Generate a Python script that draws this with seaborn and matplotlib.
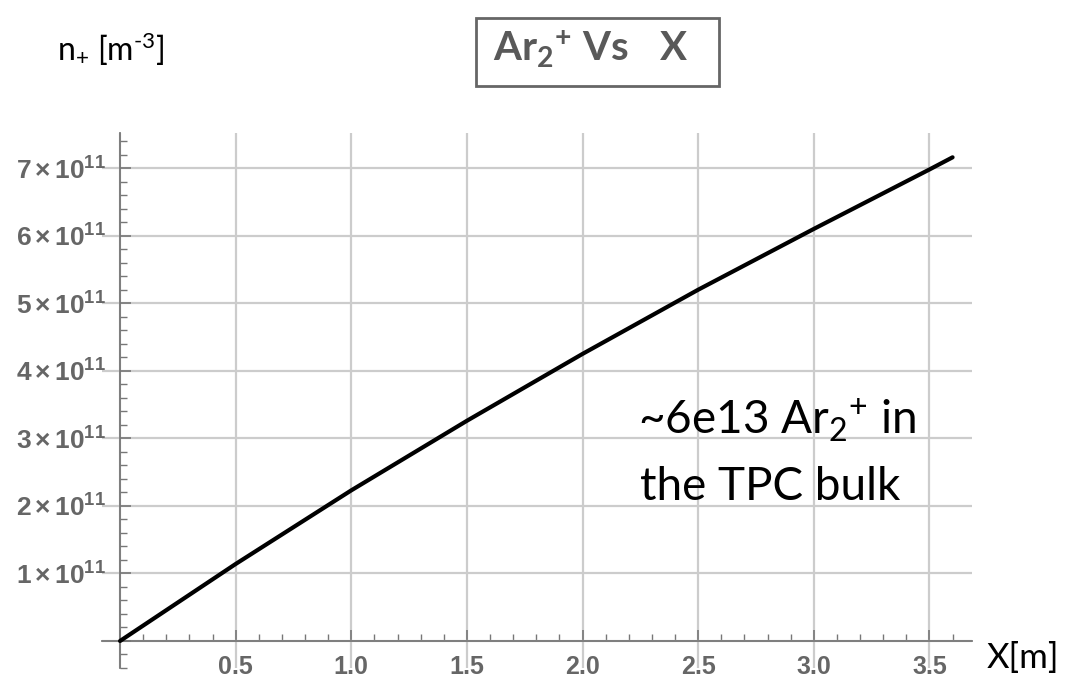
import matplotlib
matplotlib.use("Agg")
import matplotlib.pyplot as plt
from matplotlib.patches import Rectangle
from matplotlib.ticker import MultipleLocator, FixedLocator, FuncFormatter
import seaborn as sns
import pandas as pd

# ---- data ----
x_m = [0.0, 0.5, 1.0, 1.5, 2.0, 2.5, 3.0, 3.5, 3.6]
n_plus = [0.0, 1.14e11, 2.23e11, 3.26e11, 4.25e11, 5.20e11, 6.10e11, 6.98e11, 7.16e11]
x_tick_values = [0.5, 1.0, 1.5, 2.0, 2.5, 3.0, 3.5]
x_tick_labels = ["0.5", "1.0", "1.5", "2.0", "2.5", "3.0", "3.5"]
y_tick_values = [1e11, 2e11, 3e11, 4e11, 5e11, 6e11, 7e11]
y_tick_mantissa = [1, 2, 3, 4, 5, 6, 7]

sns.set_theme(style="white")
plt.rcParams["mathtext.fontset"] = "custom"
plt.rcParams["mathtext.rm"] = "Lato"
plt.rcParams["mathtext.it"] = "Lato:italic"
plt.rcParams["mathtext.bf"] = "Liberation Sans:bold"
plt.rcParams["mathtext.sf"] = "Lato:bold"
plt.rcParams["font.family"] = ["Lato", "DejaVu Sans"]

W, H = 1066, 677
fig = plt.figure(figsize=(W / 100, H / 100), dpi=100)
ax = fig.add_axes([102 / W, 9 / H, 870 / W, 535 / H])

df = pd.DataFrame({"x": x_m, "n": n_plus})
sns.lineplot(data=df, x="x", y="n", ax=ax, color="black", linewidth=3, zorder=5)

ax.set_xlim(-0.078, 3.684)
ax.set_ylim(-0.40e11, 7.52e11)

for s in ["top", "right"]:
    ax.spines[s].set_visible(False)
ax.spines["left"].set_position(("data", 0))
ax.spines["bottom"].set_position(("data", 0))
for s in ["left", "bottom"]:
    ax.spines[s].set_color("#777777")
    ax.spines[s].set_linewidth(1.3)

ax.xaxis.set_major_locator(FixedLocator([0.0] + x_tick_values))
ax.xaxis.set_minor_locator(MultipleLocator(0.1))
ax.yaxis.set_major_locator(FixedLocator([0.0] + y_tick_values))
ax.yaxis.set_minor_locator(MultipleLocator(0.2e11))

xlab = dict(zip(x_tick_values, x_tick_labels))
ax.xaxis.set_major_formatter(FuncFormatter(
    lambda v, p: next((xlab[k] for k in xlab if abs(k - v) < 1e-9), "")))
ymant = dict(zip(y_tick_values, y_tick_mantissa))
ax.yaxis.set_major_formatter(FuncFormatter(
    lambda v, p: next((r"$\mathbf{%d\times10^{11}}$" % ymant[k]
                       for k in ymant if abs(k - v) < 1), "")))

ax.tick_params(axis="both", which="major", direction="in", length=8, width=1.2,
               color="#777777", labelcolor="#666666", pad=10,
               left=True, bottom=True)
ax.tick_params(axis="y", which="major", labelsize=19)
ax.tick_params(axis="x", which="major", labelsize=18)
ax.tick_params(axis="both", which="minor", direction="in", length=5, width=1.0,
               color="#777777", left=True, bottom=True)
for lab in ax.get_xticklabels():
    lab.set_fontweight("bold")
    lab.set_family("Liberation Sans")

ax.set_xlabel("")
ax.set_ylabel("")
ax.grid(True, which="major", color="#cccccc", linewidth=1.6)
ax.set_axisbelow(True)

# texts
fig.text(57 / W, 1 - 61 / H, r"n$_{+}$ [m$^{\text{-}3}$]", fontsize=23, color="black",
         ha="left", va="baseline")
fig.add_artist(Rectangle((476 / W, 1 - 86 / H), 243 / W, 68 / H,
                         transform=fig.transFigure, fill=False,
                         edgecolor="#666666", linewidth=2))
fig.text(591 / W, 1 - 62 / H, r"$\mathsf{Ar_2}$$\mathsf{^{+}\ Vs\ \ \ X}$", fontsize=29,
         color="#595959", ha="center", va="baseline")
fig.text(638 / W, 1 - 435 / H, r"~6e13 Ar$_2$$^{+}$ in", fontsize=33, color="black",
         ha="left", va="baseline")
fig.text(640 / W, 1 - 500 / H, "the TPC bulk", fontsize=33, color="black",
         ha="left", va="baseline")
fig.text(987 / W, 1 - 668 / H, "X[m]", fontsize=25, color="black",
         ha="left", va="baseline")

fig.savefig("out.png", dpi=100)
